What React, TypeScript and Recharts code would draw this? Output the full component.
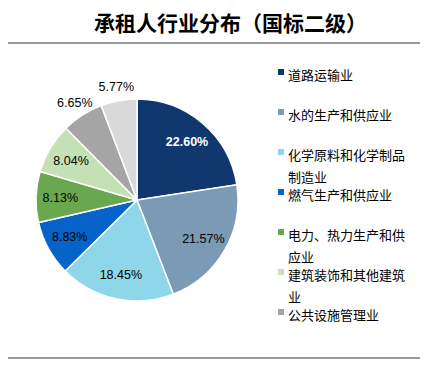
import React from "react";
import { PieChart, Pie, Cell, Legend } from "recharts";

const categories = [
  "道路运输业",
  "水的生产和供应业",
  "化学原料和化学制品制造业",
  "燃气生产和供应业",
  "电力、热力生产和供应业",
  "建筑装饰和其他建筑业",
  "公共设施管理业",
  "其他",
];
const shares = [22.6, 21.57, 18.45, 8.83, 8.13, 8.04, 6.65, 5.77];
const colors = [
  "#10376E",
  "#7A9AB6",
  "#8ED6EA",
  "#0563C9",
  "#6AA84F",
  "#C5E0B4",
  "#A5A5A5",
  "#D9D9D9",
];
const labelTexts = ["22.60%", "21.57%", "18.45%", "8.83%", "8.13%", "8.04%", "6.65%", "5.77%"];
const title = "承租人行业分布（国标二级）";

const data = categories.map((name, i) => ({ name, value: shares[i], label: labelTexts[i] }));

const RAD = Math.PI / 180;

const renderLabel = (props: any) => {
  const { cx, cy, midAngle, outerRadius, index, value } = props;
  const outside = value < 7;
  const r = outside ? outerRadius + 14 : outerRadius * 0.76;
  const x = cx + r * Math.cos(-midAngle * RAD);
  const y = cy + r * Math.sin(-midAngle * RAD);
  const first = index === 0;
  return (
    <text
      x={x}
      y={y}
      textAnchor="middle"
      dominantBaseline="central"
      fontFamily="'Liberation Sans', Arial, sans-serif"
      fontSize={12.5}
      fontWeight={first ? "bold" : "normal"}
      fill={first ? "#FFFFFF" : "#000000"}
    >
      {data[index].label}
    </text>
  );
};

const LEGEND_BOTTOM = 330;

const renderLegend = (props: any) => {
  const payload: any[] = props.payload || [];
  let items = payload.length
    ? payload.map((p: any) => ({ name: String(p.value), color: p.color }))
    : categories.map((c, i) => ({ name: c, color: colors[i] }));
  items = items
    .slice()
    .sort((a, b) => categories.indexOf(a.name) - categories.indexOf(b.name))
    .map((it) => ({ ...it, color: colors[categories.indexOf(it.name)] || it.color }));
  return (
    <div style={{ position: "relative", width: 0, height: 0, overflow: "visible" }}>
      {items.map((it, i) => {
        const cyy = 75 + i * 40;
        if (cyy + 11 > LEGEND_BOTTOM) return null;
        return (
          <React.Fragment key={i}>
            <div
              style={{
                position: "absolute",
                left: 278,
                top: cyy - 6,
                width: 6,
                height: 6,
                background: it.color,
              }}
            />
            <div
              style={{
                position: "absolute",
                left: 288,
                top: cyy - 11,
                width: 118,
                fontSize: 13,
                lineHeight: "22px",
                color: "#000",
                fontFamily: "'Noto Sans CJK SC', sans-serif",
                textAlign: "left",
                whiteSpace: "normal",
              }}
            >
              {it.name}
            </div>
          </React.Fragment>
        );
      })}
    </div>
  );
};

export default function App() {
  return (
    <div
      style={{
        position: "absolute",
        left: 0,
        top: 0,
        width: 432,
        height: 368,
        background: "#fff",
        overflow: "hidden",
      }}
    >
      <div
        style={{
          position: "absolute",
          left: 94,
          top: 8,
          whiteSpace: "nowrap",
          fontFamily: "'Noto Sans CJK SC', sans-serif",
          fontWeight: "bold",
          fontSize: 21,
          lineHeight: "28px",
          color: "#000",
        }}
      >
        {title}
      </div>
      <div style={{ position: "absolute", left: 8, top: 42, width: 412, height: 2, background: "#999" }} />
      <div style={{ position: "absolute", left: 8, top: 357, width: 412, height: 2, background: "#999" }} />
      <div style={{ position: "absolute", left: 0, top: 0 }}>
        <PieChart width={432} height={368} margin={{ top: 0, right: 0, bottom: 0, left: 0 }}>
          <Pie
            data={data}
            dataKey="value"
            nameKey="name"
            cx={137}
            cy={200}
            outerRadius={101}
            startAngle={90}
            endAngle={-270}
            stroke="#FFFFFF"
            strokeWidth={1.5}
            label={renderLabel}
            labelLine={false}
            isAnimationActive={false}
          >
            {data.map((d, i) => (
              <Cell key={i} fill={colors[i]} />
            ))}
          </Pie>
          <Legend
            content={renderLegend}
            layout="horizontal"
            verticalAlign="top"
            align="left"
            wrapperStyle={{ left: 0, top: 0 }}
          />
        </PieChart>
      </div>
    </div>
  );
}
